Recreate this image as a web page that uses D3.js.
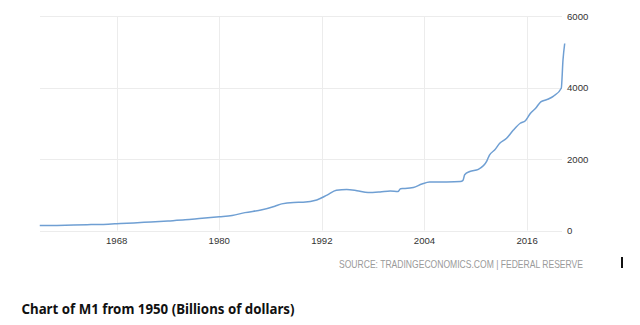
<!DOCTYPE html>
<html>
<head>
<meta charset="utf-8">
<script src="https://cdn.jsdelivr.net/npm/d3@7"></script>
<style>
  html, body { margin: 0; padding: 0; background: #fff; }
  svg { display: block; }
</style>
</head>
<body>
<svg id="chart" width="640" height="325"></svg>
<script>
// ---- data ----
const years = [1959.0, 1961, 1963, 1965, 1967, 1968, 1970, 1972, 1974, 1976, 1978, 1980, 1981.5, 1983, 1985, 1986.5, 1987.3, 1988.7, 1989.8, 1991.4, 1992.6, 1993.7, 1994.9, 1996.1, 1997.4, 1998.8, 2000.0, 2000.9, 2001.2, 2001.6, 2002.7, 2003.7, 2004.6, 2006.6, 2008.2, 2008.5, 2008.7, 2009.3, 2010.3, 2011.3, 2011.6, 2012.2, 2012.8, 2013.6, 2014.4, 2015.2, 2015.8, 2016.4, 2017.0, 2017.6, 2018.4, 2019.1, 2020.0, 2020.2, 2020.4];
const m1 = [138, 143, 152, 165, 178, 188, 210, 240, 268, 298, 345, 385, 420, 500, 580, 680, 745, 785, 790, 855, 990, 1125, 1150, 1115, 1060, 1078, 1105, 1088, 1170, 1175, 1205, 1300, 1355, 1358, 1370, 1400, 1560, 1650, 1712, 1950, 2110, 2250, 2440, 2580, 2810, 3000, 3070, 3280, 3420, 3600, 3670, 3760, 3980, 4770, 5230];
const xTicks = [1968, 1980, 1992, 2004, 2016];
const yTicks = [0, 2000, 4000, 6000];
const sourceText = "SOURCE: TRADINGECONOMICS.COM | FEDERAL RESERVE";
const titleText = "Chart of M1 from 1950 (Billions of dollars)";

// ---- layout ----
const svg = d3.select("#chart");
const x = d3.scaleLinear().domain([1959, 2020.4]).range([39.75, 564.7]);
const y = d3.scaleLinear().domain([0, 6000]).range([230.5, 16]);
const gridRight = 562;

const data = years.map((yr, i) => ({ yr, v: m1[i] }));

// horizontal grid
svg.append("g").selectAll("line").data(yTicks).join("line")
  .attr("x1", 40).attr("x2", gridRight)
  .attr("y1", d => Math.round(y(d)) + 0.5).attr("y2", d => Math.round(y(d)) + 0.5)
  .attr("stroke", "#ececec").attr("stroke-width", 1);

// vertical grid
svg.append("g").selectAll("line").data(xTicks).join("line")
  .attr("x1", d => Math.round(x(d)) + 0.5).attr("x2", d => Math.round(x(d)) + 0.5)
  .attr("y1", y(6000)).attr("y2", y(0))
  .attr("stroke", "#ececec").attr("stroke-width", 1);

// x labels
svg.append("g").selectAll("text").data(xTicks).join("text")
  .attr("x", d => x(d)).attr("y", 243.5)
  .attr("text-anchor", "middle")
  .attr("font-family", "Liberation Sans, Arial, sans-serif")
  .attr("font-size", 9.6).attr("fill", "#333")
  .text(d => d);

// y labels
svg.append("g").selectAll("text").data(yTicks).join("text")
  .attr("x", 567).attr("y", d => y(d) + 3.5)
  .attr("text-anchor", "start")
  .attr("font-family", "Liberation Sans, Arial, sans-serif")
  .attr("font-size", 9.6).attr("fill", "#333")
  .text(d => d);

// line
const line = d3.line().x(d => x(d.yr)).y(d => y(d.v)).curve(d3.curveMonotoneX);
svg.append("path").datum(data)
  .attr("d", line)
  .attr("fill", "none")
  .attr("stroke", "#6f9fd3")
  .attr("stroke-width", 1.5)
  .attr("stroke-linejoin", "round");

// source
svg.append("text")
  .attr("x", 583).attr("y", 268)
  .attr("text-anchor", "end")
  .attr("font-family", "Liberation Sans, Arial, sans-serif")
  .attr("font-size", 10.2).attr("fill", "#9a9a9a")
  .attr("textLength", 244).attr("lengthAdjust", "spacingAndGlyphs")
  .text(sourceText);

// text cursor artifact
svg.append("rect").attr("x", 621).attr("y", 257).attr("width", 2).attr("height", 11).attr("fill", "#111");

// title
svg.append("text")
  .attr("x", 21.5).attr("y", 314)
  .attr("font-family", "Noto Sans, Open Sans, sans-serif")
  .attr("font-weight", "bold")
  .attr("font-size", 14).attr("fill", "#111")
  .attr("textLength", 273).attr("lengthAdjust", "spacingAndGlyphs")
  .text(titleText);
</script>
</body>
</html>
